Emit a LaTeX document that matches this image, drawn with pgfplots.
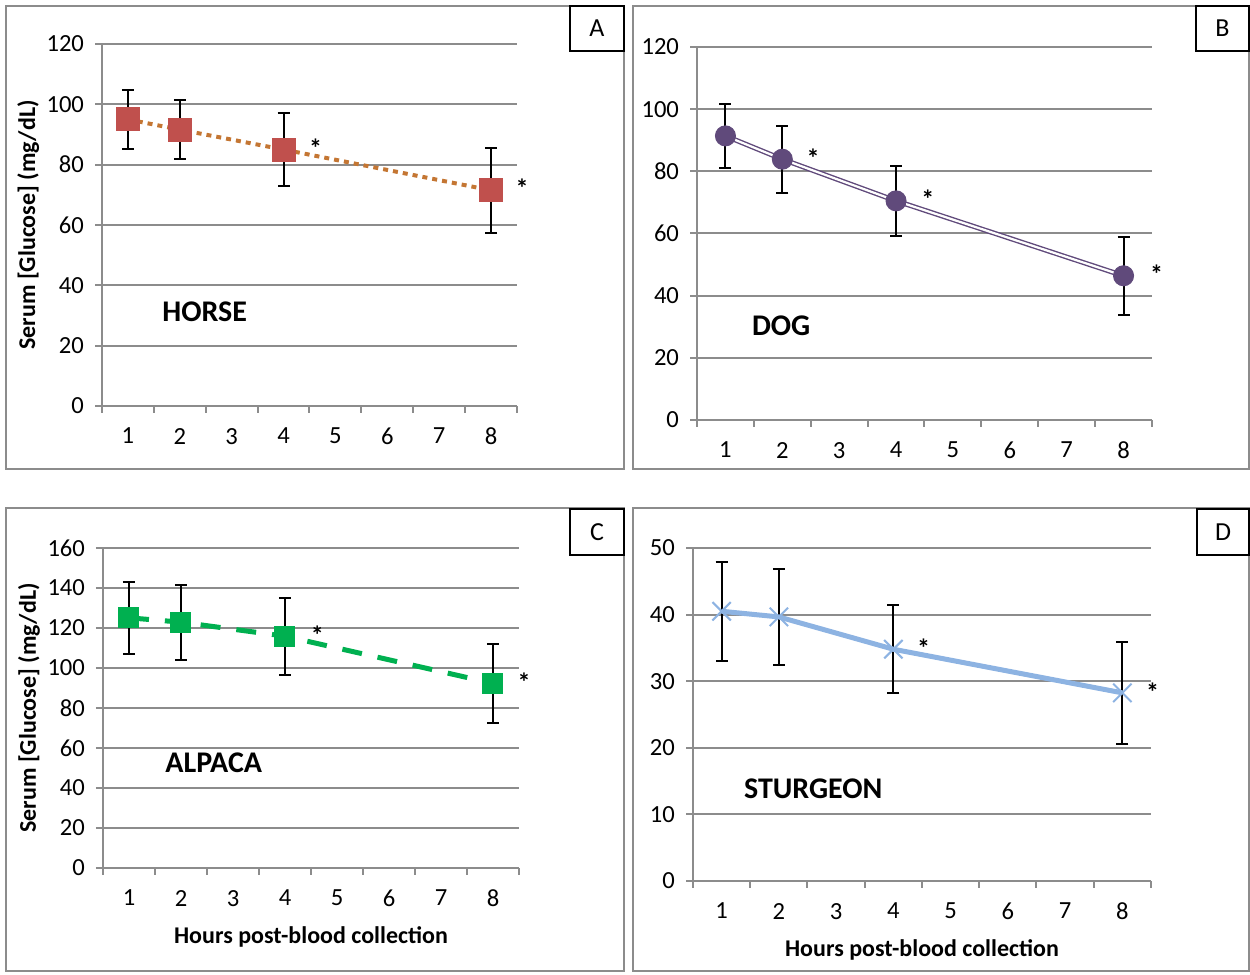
\documentclass[border=0pt]{standalone}
\usepackage{fontspec}
\setmainfont{Carlito}
\usepackage{pgfplots}
\pgfplotsset{compat=1.18}
\usetikzlibrary{calc}

\definecolor{horsered}{HTML}{C0504D}
\definecolor{horseline}{HTML}{C47633}
\definecolor{dogpurple}{HTML}{604A7B}
\definecolor{alpacagreen}{HTML}{00B050}
\definecolor{sturblue}{HTML}{8DB3E2}
\definecolor{gridgray}{HTML}{8C8C8C}

\pgfplotsset{
  panel/.style={
    scale only axis,
    xmin=0.5, xmax=8.5,
    xtick={1,...,8},
    minor xtick={0.5,1.5,...,8.5},
    major x tick style={draw=none},
    axis x line*=bottom,
    axis y line*=left,
    axis line style={gridgray, line width=1pt, -},
    tick style={gridgray, line width=1pt},
    tick align=outside,
    major tick length=3.5pt,
    minor tick length=3.5pt,
    ymajorgrids,
    grid style={gridgray, line width=1pt},
    tick label style={font=\fontsize{12.3}{14}\selectfont},
    /pgf/number format/assume math mode=true,
    xticklabel style={yshift=-4pt},
    yticklabel style={xshift=-2pt},
    clip=false,
    error bars/y dir=both,
    error bars/y explicit,
    error bars/error bar style={black, line width=1pt},
    error bars/error mark options={rotate=90, black, mark size=3pt, line width=1pt},
  },
  ylab/.style={
    ylabel={Serum [Glucose] (mg/dL)},
    ylabel style={at={(axis description cs:-0.178,0.5)}, anchor=center, rotate=0,
      font=\fontsize{12}{14}\selectfont\bfseries},
  },
  xlab/.style={
    xlabel={Hours post-blood collection},
    xlabel style={at={(axis description cs:0.5,0)}, anchor=center, yshift=-34.5pt,
      font=\fontsize{12}{14}\selectfont\bfseries},
  },
}

\newcommand{\sigmark}[1]{\node[font=\fontsize{13}{14}\selectfont\bfseries] at (#1) {*};}

\begin{document}
\begin{tikzpicture}
\useasboundingbox (0,0) rectangle (625pt,487.5pt);

% panel frames
\draw[gridgray, line width=0.8pt] (3pt,253pt) rectangle (312pt,484.5pt);
\draw[gridgray, line width=0.8pt] (316.5pt,253pt) rectangle (624.5pt,484.5pt);
\draw[gridgray, line width=0.8pt] (3pt,2pt) rectangle (312pt,233.5pt);
\draw[gridgray, line width=0.8pt] (316.5pt,2pt) rectangle (624.5pt,233.5pt);

% letter boxes
\draw[black, line width=0.8pt] (285pt,462pt) rectangle (312pt,484.5pt);
\node[font=\fontsize{13}{14}\selectfont] at (298.5pt,473.2pt) {A};
\draw[black, line width=0.8pt] (598pt,462pt) rectangle (624.5pt,484.5pt);
\node[font=\fontsize{13}{14}\selectfont] at (611.2pt,473.2pt) {B};
\draw[black, line width=0.8pt] (285pt,210pt) rectangle (312pt,233pt);
\node[font=\fontsize{13}{14}\selectfont] at (298.5pt,221.5pt) {C};
\draw[black, line width=0.8pt] (598.5pt,210pt) rectangle (624.5pt,233pt);
\node[font=\fontsize{13}{14}\selectfont] at (611.5pt,221.5pt) {D};

% A: horse
\begin{axis}[panel, ylab, at={(51pt,284.5pt)}, anchor=south west,
  width=207.5pt, height=181pt, ymin=0, ymax=120, ytick={0,20,...,120}]
  \addplot[draw=none, mark=none] coordinates {
    (1,95.0) +- (0,9.7)
    (2,91.6) +- (0,9.8)
    (4,85.0) +- (0,12.1)
    (8,71.5) +- (0,14.0)
  };
  \addplot[horseline, line width=2pt, dash pattern=on 2.5pt off 2.5pt,
    mark=square*, mark size=5pt, mark options={solid, fill=horsered, draw=horsered}] coordinates {
    (1,95.0) (2,91.6) (4,85.0) (8,71.5)
  };
  \sigmark{axis cs:4.62,85.5}
  \sigmark{axis cs:8.6,72.3}
  \node[font=\fontsize{15}{16}\selectfont\bfseries] at (axis cs:2.48,31.4) {HORSE};
\end{axis}

% B: dog
\begin{axis}[panel, at={(348.5pt,277.5pt)}, anchor=south west,
  width=227.5pt, height=186.5pt, ymin=0, ymax=120, ytick={0,20,...,120}]
  \addplot[draw=none, mark=none] coordinates {
    (1,91.4) +- (0,10.3)
    (2,83.9) +- (0,10.8)
    (4,70.5) +- (0,11.3)
    (8,46.4) +- (0,12.6)
  };
  \addplot[dogpurple, line width=0.7pt, double=white, double distance=1.1pt,
    mark=*, mark size=5pt, mark options={fill=dogpurple, draw=dogpurple, double=none, line width=0.5pt}] coordinates {
    (1,91.4) (2,83.9) (4,70.5) (8,46.4)
  };
  \sigmark{axis cs:2.54,84.3}
  \sigmark{axis cs:4.56,70.9}
  \sigmark{axis cs:8.58,46.8}
  \node[font=\fontsize{15}{16}\selectfont\bfseries] at (axis cs:1.98,30.3) {DOG};
\end{axis}

% C: alpaca
\begin{axis}[panel, ylab, xlab, at={(51.5pt,53.5pt)}, anchor=south west,
  width=208pt, height=160pt, ymin=0, ymax=160, ytick={0,20,...,160}]
  \addplot[draw=none, mark=none] coordinates {
    (1,125.1) +- (0,18.1)
    (2,122.9) +- (0,18.7)
    (4,115.9) +- (0,19.3)
    (8,92.3) +- (0,19.6)
  };
  \addplot[alpacagreen, line width=2.5pt, dash pattern=on 10pt off 8pt,
    mark=square*, mark size=5pt, mark options={solid, fill=alpacagreen, draw=alpacagreen, line width=0.5pt}] coordinates {
    (1,125.1) (2,122.9) (4,115.9) (8,92.3)
  };
  \sigmark{axis cs:4.62,116.5}
  \sigmark{axis cs:8.6,92.8}
  \node[font=\fontsize{15}{16}\selectfont\bfseries] at (axis cs:2.63,52.4) {ALPACA};
\end{axis}

% D: sturgeon
\begin{axis}[panel, xlab, at={(346.5pt,47pt)}, anchor=south west,
  width=229pt, height=166.5pt, ymin=0, ymax=50, ytick={0,10,...,50}]
  \addplot[draw=none, mark=none] coordinates {
    (1,40.5) +- (0,7.4)
    (2,39.65) +- (0,7.15)
    (4,34.8) +- (0,6.6)
    (8,28.25) +- (0,7.7)
  };
  \addplot[sturblue, line width=2.5pt,
    mark=x, mark size=6.5pt, mark options={sturblue, line width=1pt}] coordinates {
    (1,40.5) (2,39.65) (4,34.8) (8,28.25)
  };
  \sigmark{axis cs:4.53,35.0}
  \sigmark{axis cs:8.53,28.4}
  \node[font=\fontsize{15}{16}\selectfont\bfseries] at (axis cs:2.6,13.8) {STURGEON};
\end{axis}
\end{tikzpicture}
\end{document}
